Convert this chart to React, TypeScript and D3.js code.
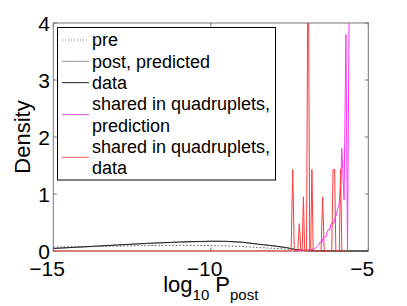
import React from "react";
import * as d3 from "d3";

const W = 407;
const H = 306;

// x ticks and y ticks
const xTicks = [-15, -10, -5];
const yTicks = [0, 1, 2, 3, 4];

// "pre" distribution (dotted)
const preX = [-15, -14, -13, -12, -11, -10, -9.5, -9, -8.5, -8, -7.5, -7.2, -7, -6.8, -5];
const preY = [0.07, 0.075, 0.085, 0.095, 0.1, 0.095, 0.09, 0.078, 0.062, 0.047, 0.03, 0.015, 0.006, 0, 0];

// "post, predicted" (gray)
const postPredX = [-15, -14, -13, -12, -11, -10, -9.5, -9, -8.5, -8, -7.6, -7.3, -7, -6.7, -6.4, -5];
const postPredY = [0.043, 0.072, 0.102, 0.132, 0.155, 0.169, 0.167, 0.152, 0.118, 0.088, 0.058, 0.024, 0.007, 0.002, 0, 0];

// "data" (black)
const dataX = [-15, -14, -13, -12, -11, -10, -9.5, -9, -8.5, -8, -7.6, -7.3, -7, -6.7, -6.4, -5];
const dataY = [0.045, 0.075, 0.105, 0.135, 0.158, 0.172, 0.17, 0.155, 0.12, 0.09, 0.06, 0.025, 0.008, 0.002, 0, 0];

// "shared in quadruplets, prediction" (magenta)
const sharedPredX = [-7.29, -7.16, -7.0, -6.84, -6.71, -6.62, -6.56, -6.52, -6.48, -6.44, -6.39, -6.35, -6.31, -6.27, -6.23, -6.19, -6.14, -6.1, -6.06, -6.02, -5.98, -5.93, -5.87, -5.84, -5.77, -5.71, -5.66, -5.6, -5.55];
const sharedPredY = [0, 0.01, 0.01, 0.02, 0.04, 0.08, 0.12, 0.16, 0.14, 0.22, 0.26, 0.24, 0.33, 0.38, 0.36, 0.46, 0.5, 0.48, 0.57, 0.62, 0.72, 0.8, 1.25, 1.8, 0.89, 3.8, 0, 5, 6];

// "shared in quadruplets, data" (red)
const sharedDataX = [-15, -7.45, -7.4, -7.35, -7.24, -7.19, -7.14, -7.1, -7.06, -7.02, -6.96, -6.91, -6.86, -6.83, -6.79, -6.75, -6.5, -6.45, -6.4, -6.16, -6.12, -6.07, -6.03, -5.92, -5.88, -5.84, -5.7];
const sharedDataY = [0, 0, 1.43, 0, 0, 0.48, 0, 0, 0.95, 0, 0, 6, 0, 0, 1.43, 0, 0, 0.95, 0, 0, 1.43, 1.43, 0, 0, 1.43, 0, 0];

const legendLabels = [
  ["pre"],
  ["post, predicted"],
  ["data"],
  ["shared in quadruplets,", "prediction"],
  ["shared in quadruplets,", "data"],
];

const FONT = "'Liberation Sans', Arial, Helvetica, sans-serif";

export default function App() {
  const left = 53.3, right = 368.3, top = 23, bottom = 251;
  const x = d3.scaleLinear().domain([-15, -5]).range([left, right]);
  const y = d3.scaleLinear().domain([0, 4]).range([bottom, top]);

  const mk = (xs: number[], ys: number[]) =>
    d3.line<number>().x((_, i) => x(xs[i])).y((_, i) => y(ys[i]))(xs.map((_, i) => i)) || "";

  const series = [
    { d: mk(preX, preY), stroke: "#555", dash: "1.5,2", w: 1 },
    { d: mk(postPredX, postPredY), stroke: "#999", dash: undefined, w: 1 },
    { d: mk(dataX, dataY), stroke: "#222", dash: undefined, w: 1 },
    { d: mk(sharedPredX, sharedPredY), stroke: "#ff33ff", dash: undefined, w: 1 },
    { d: mk(sharedDataX, sharedDataY), stroke: "#ff3a3a", dash: undefined, w: 1 },
  ];

  const legendStyles = [
    { stroke: "#777", dash: "1,2" },
    { stroke: "#999", dash: undefined },
    { stroke: "#222", dash: undefined },
    { stroke: "#e050e0", dash: undefined },
    { stroke: "#ff6060", dash: undefined },
  ];

  const tickFs = 21;
  const digitW = 0.556 * tickFs;
  const tl = 3.5;
  const axisColor = "#777";

  // legend layout
  const lgX0 = 57.5, lgY0 = 27.5, lgX1 = 275.5, lgY1 = 180;
  const rowH = 21.33;
  const rowC0 = 40;
  let row = 0;
  const legendItems = legendLabels.map((lines, i) => {
    const startRow = row;
    row += lines.length;
    const lineY = rowC0 + rowH * (startRow + (lines.length - 1) / 2);
    return { lines, startRow, lineY, style: legendStyles[i] };
  });

  return (
    <svg width={W} height={H} style={{ position: "absolute", left: 0, top: 0, background: "#fff" }} fontFamily={FONT}>
      <rect x={0} y={0} width={W} height={H} fill="#fff" />
      <defs>
        <clipPath id="plotclip">
          <rect x={left} y={top} width={right - left} height={bottom - top + 1} />
        </clipPath>
      </defs>
      {/* axes box */}
      <rect x={left} y={top} width={right - left} height={bottom - top} fill="none" stroke={axisColor} strokeWidth={1} />
      {/* ticks */}
      {xTicks.map((t) => (
        <g key={"xt" + t}>
          <line x1={x(t)} x2={x(t)} y1={bottom} y2={bottom - tl} stroke={axisColor} />
          <line x1={x(t)} x2={x(t)} y1={top} y2={top + tl} stroke={axisColor} />
        </g>
      ))}
      {yTicks.map((t) => (
        <g key={"yt" + t}>
          <line x1={left} x2={left + tl} y1={y(t)} y2={y(t)} stroke={axisColor} />
          <line x1={right} x2={right - tl} y1={y(t)} y2={y(t)} stroke={axisColor} />
        </g>
      ))}
      {/* series */}
      <g clipPath="url(#plotclip)">
        {series.map((s, i) => (
          <path key={i} d={s.d} fill="none" stroke={s.stroke} strokeWidth={s.w} strokeDasharray={s.dash} />
        ))}
      </g>
      {/* tick labels */}
      {xTicks.map((t) => {
        const digits = String(Math.abs(t));
        const half = (digits.length * digitW) / 2;
        return (
          <text key={"xl" + t} x={x(t) + half} y={275.5} textAnchor="end" fontSize={tickFs} fill="#000">
            {(t < 0 ? "\u2212" : "") + digits}
          </text>
        );
      })}
      {yTicks.map((t) => (
        <text key={"yl" + t} x={50} y={y(t) + 7.5} textAnchor="end" fontSize={tickFs} fill="#000">{t}</text>
      ))}
      {/* axis labels */}
      <text transform={`translate(30,137) rotate(-90)`} textAnchor="middle" fontSize={22} fill="#000">Density</text>
      <text x={210.8} y={292} textAnchor="middle" fontSize={22} fill="#000">
        log<tspan fontSize={15} dy={8}>10</tspan><tspan dy={-8}>{" P"}</tspan><tspan fontSize={15} dy={8}>post</tspan>
      </text>
      {/* legend */}
      <rect x={lgX0} y={lgY0} width={lgX1 - lgX0} height={lgY1 - lgY0} fill="#fff" stroke="#000" strokeWidth={1} />
      {legendItems.map((it, i) => (
        <g key={"lg" + i}>
          <line x1={62} x2={89} y1={it.lineY} y2={it.lineY} stroke={it.style.stroke} strokeDasharray={it.style.dash} strokeWidth={1} />
          {it.lines.map((ln, j) => (
            <text key={j} x={92} y={rowC0 + rowH * (it.startRow + j) + 6.3} fontSize={18} fill="#000">{ln}</text>
          ))}
        </g>
      ))}
    </svg>
  );
}
